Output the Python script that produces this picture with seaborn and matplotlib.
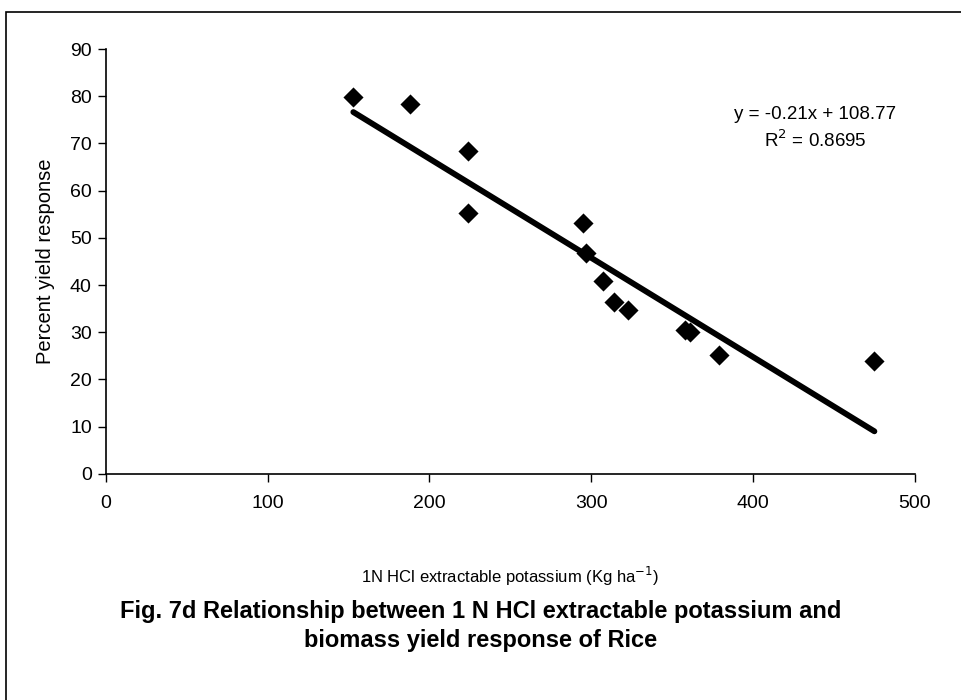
import numpy as np
import pandas as pd
import matplotlib.pyplot as plt
import seaborn as sns
from matplotlib.patches import Rectangle

# values
potassium = [153, 188, 224, 224, 295, 297, 307, 314, 323, 358, 361, 379, 475]
yield_resp = [79.9, 78.4, 68.4, 55.3, 53.2, 46.8, 40.9, 36.4, 34.7, 30.5, 30.1, 25.2, 23.9]
slope = -0.21
intercept = 108.77
r_squared = 0.8695
x_ticks = [0, 100, 200, 300, 400, 500]
y_ticks = [0, 10, 20, 30, 40, 50, 60, 70, 80, 90]

df = pd.DataFrame({'K': potassium, 'Y': yield_resp})

sns.set_theme(style="ticks")
plt.rcParams['font.family'] = ['Liberation Sans', 'DejaVu Sans']

fig = plt.figure(figsize=(9.61, 7.0), dpi=100)
ax = fig.add_axes([0.110, 0.323, 0.842, 0.607])

# trend line over the data range
xs = np.array([min(potassium), max(potassium)])
ax.plot(xs, slope * xs + intercept, color='black', lw=4.2, solid_capstyle='round', zorder=2)

sns.scatterplot(data=df, x='K', y='Y', marker='D', s=105, color='black',
                edgecolor='black', linewidth=0, ax=ax, zorder=3)

ax.set_xlim(0, 500)
ax.set_ylim(0, 90)
ax.set_xticks(x_ticks)
ax.set_yticks(y_ticks)
ax.tick_params(axis='both', labelsize=14, colors='black', length=6, width=1, direction='out')
ax.tick_params(axis='x', pad=9)
ax.tick_params(axis='y', pad=4)
for s in ['top', 'right']:
    ax.spines[s].set_visible(False)
for s in ['left', 'bottom']:
    ax.spines[s].set_color('black')
    ax.spines[s].set_linewidth(1.2)

ax.set_xlabel('1N HCl extractable potassium (Kg ha$^{-1}$)', fontsize=12, labelpad=38, color='black')
ax.set_ylabel('Percent yield response', fontsize=14.5, labelpad=11, color='black')

ax.text(0.877, 0.812, f'y = {slope}x + {intercept}\nR$^2$ = {r_squared}', transform=ax.transAxes,
        ha='center', va='center', fontsize=13.5, color='black', linespacing=1.38)

fig.text(0.5, 0.106, 'Fig. 7d Relationship between 1 N HCl extractable potassium and\nbiomass yield response of Rice',
         ha='center', va='center', fontsize=17, fontweight='bold', color='black', linespacing=1.3)

# scanned page frame
fig.patches.append(Rectangle((0.006, -0.01), 1.2, 0.993, transform=fig.transFigure,
                             fill=False, edgecolor='black', lw=1.2))

fig.savefig('out.png', dpi=100)
